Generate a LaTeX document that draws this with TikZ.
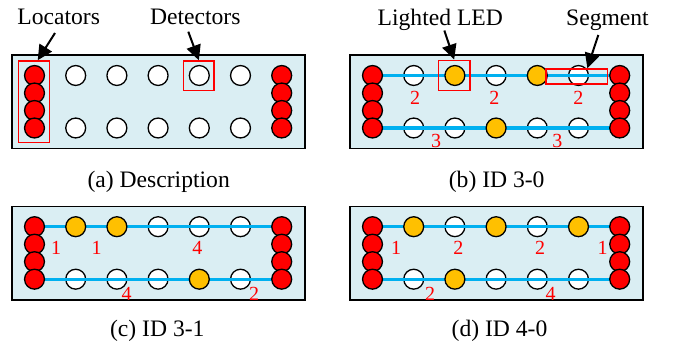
\documentclass[tikz,border=0pt]{standalone}
\usepackage{fontspec}
\setmainfont{Liberation Serif}
\usetikzlibrary{arrows.meta}
\definecolor{boxfill}{HTML}{DAEEF3}
\definecolor{ledyellow}{HTML}{FFC000}
\definecolor{wireblue}{HTML}{00B0F0}
\pgfdeclarelayer{under}
\pgfdeclarelayer{wires}
\pgfsetlayers{under,wires,main}
\tikzset{
 panelbox/.style={draw=black,line width=1.3pt,fill=boxfill,minimum width=293pt,minimum height=93.8pt,inner sep=0},
 led/.style={circle,draw=black,line width=1.3pt,fill=white,minimum size=19.9pt,inner sep=0},
 lit/.style={led,fill=ledyellow},
 loc/.style={led,fill=red},
 wire/.style={wireblue,line width=3.2pt},
 hl/.style={draw=red,line width=1.5pt,inner sep=0},
 lab/.style={font=\fontsize{23.6}{28}\selectfont,inner sep=0,anchor=base},
 num/.style={text=red,font=\fontsize{20}{24}\selectfont,inner sep=0},
 arr/.style={line width=2pt,-{Triangle[length=15pt,width=14.5pt]}},
}
\newcommand{\ledlocators}[1]{%
 \foreach \j/\yy in {1/75.5,2/93,3/110.5,4/128}{%
  \node[loc] (#1-L\j) at (34.5,\yy) {};
  \node[loc] (#1-R\j) at (281.7,\yy) {};
 }}
\begin{document}
\begin{tikzpicture}[x=1pt,y=-1pt]
\useasboundingbox (0,0) rectangle (673,347);

% ---------- (a)
\begin{scope}
 \begin{pgfonlayer}{under}
  \node[panelbox] (a-box) at (158.5,101.9) {};
  \foreach \i in {1,...,5}{
   \node[led] (a-t\i) at ({34.5+41.2*\i},75.5) {};
   \node[led] (a-b\i) at ({34.5+41.2*\i},128) {};
  }
 \end{pgfonlayer}
 \ledlocators{a}
 \node[hl,minimum width=30.6pt,minimum height=81.5pt] (a-locrect) at (34,101.75) {};
 \node[hl,minimum width=30.3pt,minimum height=29.7pt] (a-detrect) at (198.85,75.85) {};
\end{scope}

% ---------- (b)
\begin{scope}[shift={(338,0)}]
 \begin{pgfonlayer}{under}
  \node[panelbox] (b-box) at (158.5,101.9) {};
  \foreach \i in {1,3,5} \node[led] (b-t\i) at ({34.5+41.2*\i},75.5) {};
  \foreach \i in {1,2,4,5} \node[led] (b-b\i) at ({34.5+41.2*\i},128) {};
 \end{pgfonlayer}
 \foreach \i in {2,4} \node[lit] (b-t\i) at ({34.5+41.2*\i},75.5) {};
 \foreach \i in {3} \node[lit] (b-b\i) at ({34.5+41.2*\i},128) {};
 \ledlocators{b}
 \begin{pgfonlayer}{wires}
  \draw[wire] (b-L1.center) -- (b-R1.center);
  \draw[wire] (b-L4.center) -- (b-R4.center);
 \end{pgfonlayer}
 \node[hl,minimum width=31.7pt,minimum height=30pt] (b-ledrect) at (116.15,75.3) {};
 \node[hl,minimum width=61.3pt,minimum height=15pt] (b-segrect) at (238.65,76.5) {};
 \node[num] (b-n1) at (77,98) {2};
 \node[num] (b-n2) at (156.3,98) {2};
 \node[num] (b-n3) at (240.3,98) {2};
 \node[num] (b-n4) at (98,141) {3};
 \node[num] (b-n5) at (219.3,141) {3};
\end{scope}

% ---------- (c)
\begin{scope}[shift={(0,151.2)}]
 \begin{pgfonlayer}{under}
  \node[panelbox] (c-box) at (158.5,101.9) {};
  \foreach \i in {3,4,5} \node[led] (c-t\i) at ({34.5+41.2*\i},75.5) {};
  \foreach \i in {1,2,3,5} \node[led] (c-b\i) at ({34.5+41.2*\i},128) {};
 \end{pgfonlayer}
 \foreach \i in {1,2} \node[lit] (c-t\i) at ({34.5+41.2*\i},75.5) {};
 \foreach \i in {4} \node[lit] (c-b\i) at ({34.5+41.2*\i},128) {};
 \ledlocators{c}
 \begin{pgfonlayer}{wires}
  \draw[wire] (c-L1.center) -- (c-R1.center);
  \draw[wire] (c-L4.center) -- (c-R4.center);
 \end{pgfonlayer}
 \node[num] (c-n1) at (56,97) {1};
 \node[num] (c-n2) at (96.7,97) {1};
 \node[num] (c-n3) at (197.3,97) {4};
 \node[num] (c-n4) at (126.7,142.7) {4};
 \node[num] (c-n5) at (254,142.7) {2};
\end{scope}

% ---------- (d)
\begin{scope}[shift={(338,151.2)}]
 \begin{pgfonlayer}{under}
  \node[panelbox] (d-box) at (158.5,101.9) {};
  \foreach \i in {2,4} \node[led] (d-t\i) at ({34.5+41.2*\i},75.5) {};
  \foreach \i in {1,3,4,5} \node[led] (d-b\i) at ({34.5+41.2*\i},128) {};
 \end{pgfonlayer}
 \foreach \i in {1,3,5} \node[lit] (d-t\i) at ({34.5+41.2*\i},75.5) {};
 \foreach \i in {2} \node[lit] (d-b\i) at ({34.5+41.2*\i},128) {};
 \ledlocators{d}
 \begin{pgfonlayer}{wires}
  \draw[wire] (d-L1.center) -- (d-R1.center);
  \draw[wire] (d-L4.center) -- (d-R4.center);
 \end{pgfonlayer}
 \node[num] (d-n1) at (58,97) {1};
 \node[num] (d-n2) at (120.3,97) {2};
 \node[num] (d-n3) at (202,97) {2};
 \node[num] (d-n4) at (264.7,97) {1};
 \node[num] (d-n5) at (92,142.7) {2};
 \node[num] (d-n6) at (212.7,142.7) {4};
\end{scope}

% ---------- labels and arrows
\node[lab] (loclab) at (58.7,25) {Locators};
\node[lab] (detlab) at (195.3,25) {Detectors};
\node[lab] (ledlab) at (440.3,25.5) {Lighted LED};
\node[lab] (seglab) at (607.5,26) {Segment};
\coordinate (locfrom) at (55,33);
\coordinate (detfrom) at (188.3,31.7);
\coordinate (ledfrom) at (444.3,30.5);
\coordinate (segfrom) at (598.3,35);
\draw[arr] (locfrom) -- ([xshift=3.7pt]a-locrect.north);
\draw[arr] (detfrom) -- (a-detrect.north);
\draw[arr] (ledfrom) -- (b-ledrect.north);
\draw[arr] (segfrom) -- ([xshift=10.7pt]b-segrect.north);

% ---------- captions
\node[lab] (capa) at (158.7,187.3) {(a) Description};
\node[lab] (capb) at (496.7,187.3) {(b) ID 3-0};
\node[lab] (capc) at (157.3,336.7) {(c) ID 3-1};
\node[lab] (capd) at (499.5,336.7) {(d) ID 4-0};
\end{tikzpicture}
\end{document}
